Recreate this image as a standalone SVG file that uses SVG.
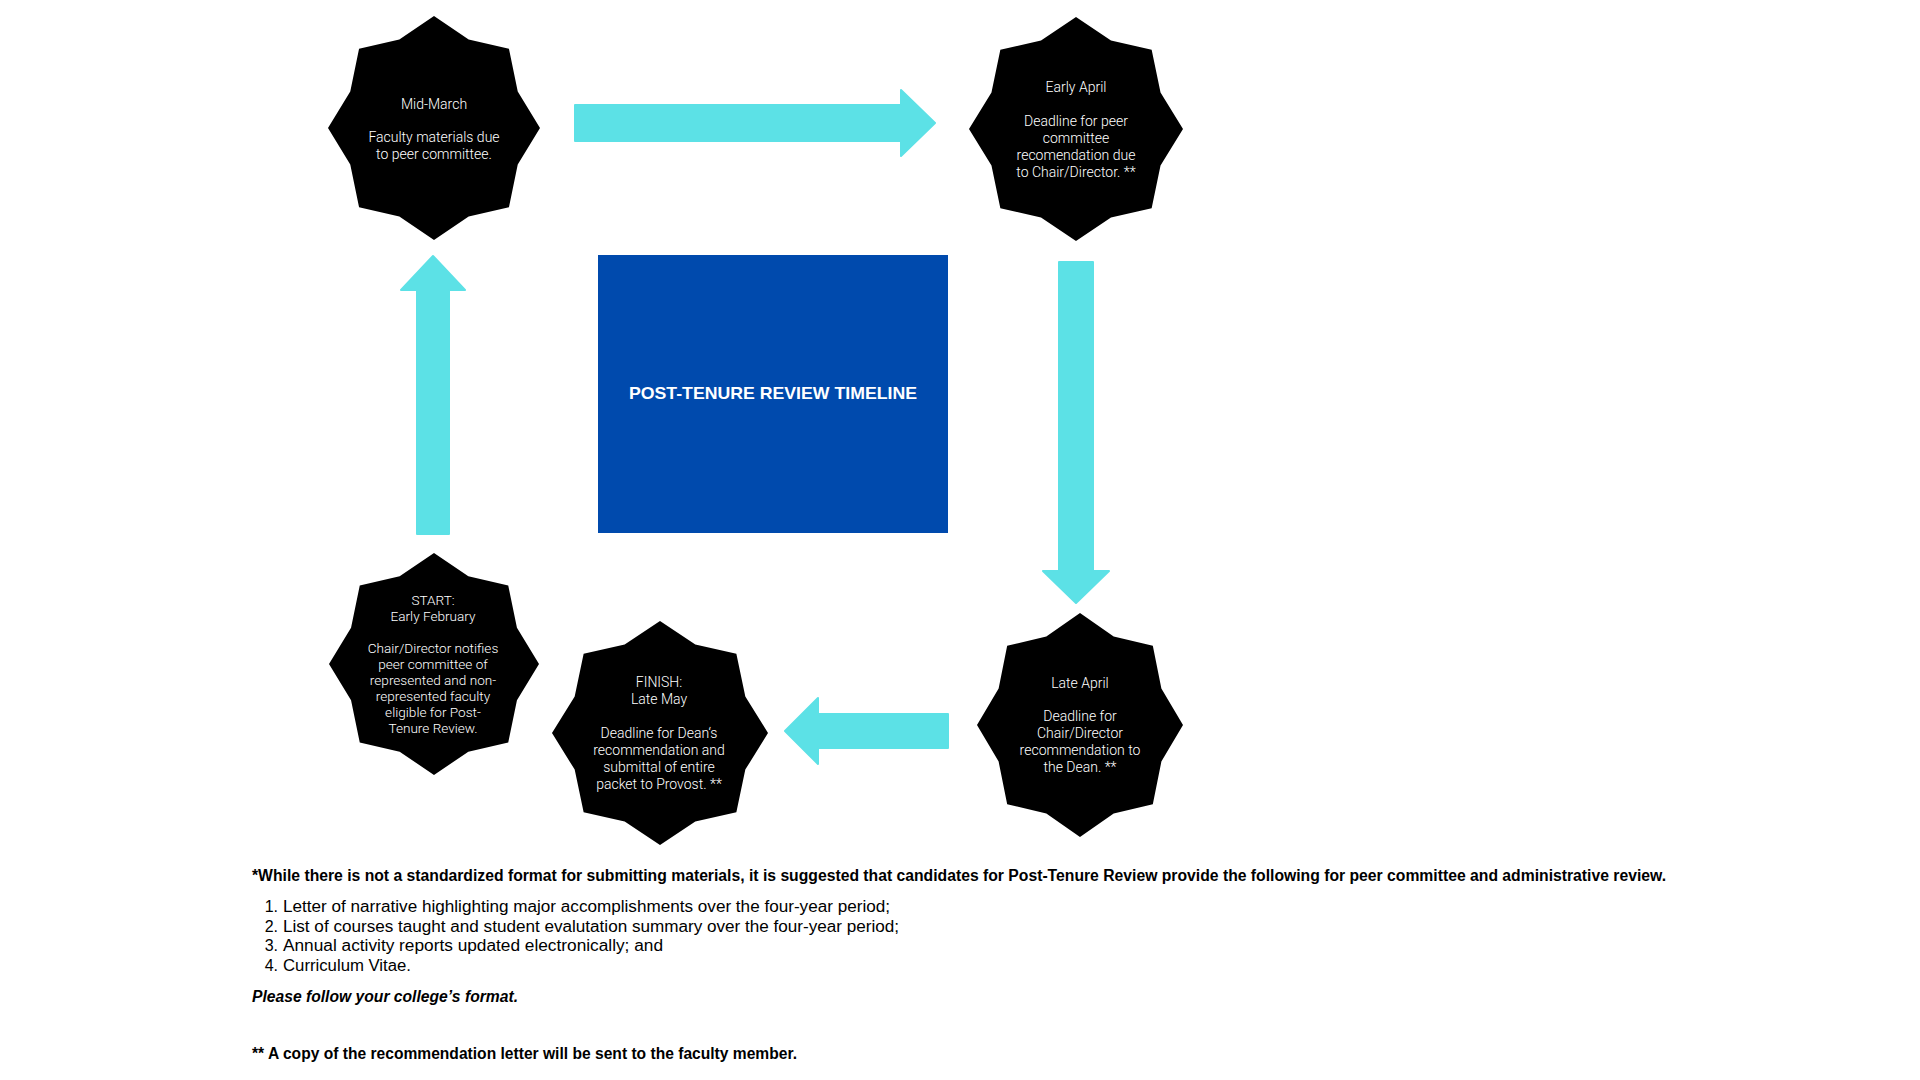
<svg xmlns="http://www.w3.org/2000/svg" xmlns:xlink="http://www.w3.org/1999/xlink" width="1920" height="1080" viewBox="0 0 1920 1080">
<style>
.star{fill:#000000}
.arrow{fill:#5CE1E6;stroke:#5CE1E6;stroke-width:2;stroke-linejoin:round}
.nt{font-family:Roboto,"Liberation Sans",sans-serif;font-size:14px;font-weight:300;fill:#ffffff;text-anchor:middle}
.title{font-family:"Liberation Sans",Arial,sans-serif;font-weight:bold;font-size:17px;fill:#ffffff;text-anchor:middle}
.note{font-family:"Liberation Sans",Arial,sans-serif;font-size:16px;fill:#000000}
.b{font-weight:bold}
.bi{font-weight:bold;font-style:italic}
</style>
<defs>
<path id="star" d="M0,-100 L32.7,-79 L70.7,-70.7 L79,-32.7 L100,0 L79,32.7 L70.7,70.7 L32.7,79 L0,100 L-32.7,79 L-70.7,70.7 L-79,32.7 L-100,0 L-79,-32.7 L-70.7,-70.7 L-32.7,-79 Z"/>
</defs>
<rect width="1920" height="1080" fill="#ffffff"/>

<g id="connectors">
<path class="arrow" d="M575,105 H901 V90 L935,123 L901,156 V141 H575 Z"/>
<path class="arrow" d="M1059,262 H1093 V571 H1109 L1076,603 L1043,571 H1059 Z"/>
<path class="arrow" d="M948,714 V748 H818 V764 L785,731 L818,698 V714 Z"/>
<path class="arrow" d="M417,534 V290 H401 L433,256 L465,290 H449 V534 Z"/>
</g>

<g id="title-box">
<rect x="598" y="255" width="350" height="278" fill="#004AAD"/>
<text class="title" x="773" y="399" textLength="288" lengthAdjust="spacingAndGlyphs">POST-TENURE REVIEW TIMELINE</text>
</g>

<g id="node-mid-march">
<use xlink:href="#star" class="star" transform="translate(434,128) scale(1.06,1.12)"/>
<text class="nt" x="434" y="109">Mid-March</text>
<text class="nt" x="434" y="142">Faculty materials due</text>
<text class="nt" x="434" y="159">to peer committee.</text>
</g>

<g id="node-early-april">
<use xlink:href="#star" class="star" transform="translate(1076,129) scale(1.07,1.12)"/>
<text class="nt" x="1076" y="92">Early April</text>
<text class="nt" x="1076" y="126">Deadline for peer</text>
<text class="nt" x="1076" y="143">committee</text>
<text class="nt" x="1076" y="160">recomendation due</text>
<text class="nt" x="1076" y="177">to Chair/Director. **</text>
</g>

<g id="node-start">
<use xlink:href="#star" class="star" transform="translate(434,664) scale(1.05,1.11)"/>
<text class="nt" x="433" y="605" style="font-size:13.6px">START:</text>
<text class="nt" x="433" y="621" style="font-size:13.6px">Early February</text>
<text class="nt" x="433" y="653" style="font-size:13.6px">Chair/Director notifies</text>
<text class="nt" x="433" y="669" style="font-size:13.6px">peer committee of</text>
<text class="nt" x="433" y="685" style="font-size:13.6px">represented and non-</text>
<text class="nt" x="433" y="701" style="font-size:13.6px">represented faculty</text>
<text class="nt" x="433" y="717" style="font-size:13.6px">eligible for Post-</text>
<text class="nt" x="433" y="733" style="font-size:13.6px">Tenure Review.</text>
</g>

<g id="node-finish">
<use xlink:href="#star" class="star" transform="translate(660,733) scale(1.08,1.12)"/>
<text class="nt" x="659" y="687">FINISH:</text>
<text class="nt" x="659" y="704">Late May</text>
<text class="nt" x="659" y="738">Deadline for Dean‘s</text>
<text class="nt" x="659" y="755">recommendation and</text>
<text class="nt" x="659" y="772">submittal of entire</text>
<text class="nt" x="659" y="789">packet to Provost. **</text>
</g>

<g id="node-late-april">
<use xlink:href="#star" class="star" transform="translate(1080,725) scale(1.03,1.12)"/>
<text class="nt" x="1080" y="688">Late April</text>
<text class="nt" x="1080" y="721">Deadline for</text>
<text class="nt" x="1080" y="738">Chair/Director</text>
<text class="nt" x="1080" y="755">recommendation to</text>
<text class="nt" x="1080" y="772">the Dean. **</text>
</g>

<g id="notes">
<text class="note b" x="252" y="881" textLength="1414" lengthAdjust="spacingAndGlyphs">*While there is not a standardized format for submitting materials, it is suggested that candidates for Post-Tenure Review provide the following for peer committee and administrative review.</text>
<text class="note" x="278" y="912" text-anchor="end">1.</text>
<text class="note" x="283" y="912" textLength="607" lengthAdjust="spacingAndGlyphs">Letter of narrative highlighting major accomplishments over the four-year period;</text>
<text class="note" x="278" y="932" text-anchor="end">2.</text>
<text class="note" x="283" y="932" textLength="616" lengthAdjust="spacingAndGlyphs">List of courses taught and student evalutation summary over the four-year period;</text>
<text class="note" x="278" y="951" text-anchor="end">3.</text>
<text class="note" x="283" y="951" textLength="380" lengthAdjust="spacingAndGlyphs">Annual activity reports updated electronically; and</text>
<text class="note" x="278" y="971" text-anchor="end">4.</text>
<text class="note" x="283" y="971" textLength="128" lengthAdjust="spacingAndGlyphs">Curriculum Vitae.</text>
<text class="note bi" x="252" y="1002" textLength="266" lengthAdjust="spacingAndGlyphs">Please follow your college’s format.</text>
<text class="note b" x="252" y="1059" textLength="545" lengthAdjust="spacingAndGlyphs">** A copy of the recommendation letter will be sent to the faculty member.</text>
</g>
</svg>
